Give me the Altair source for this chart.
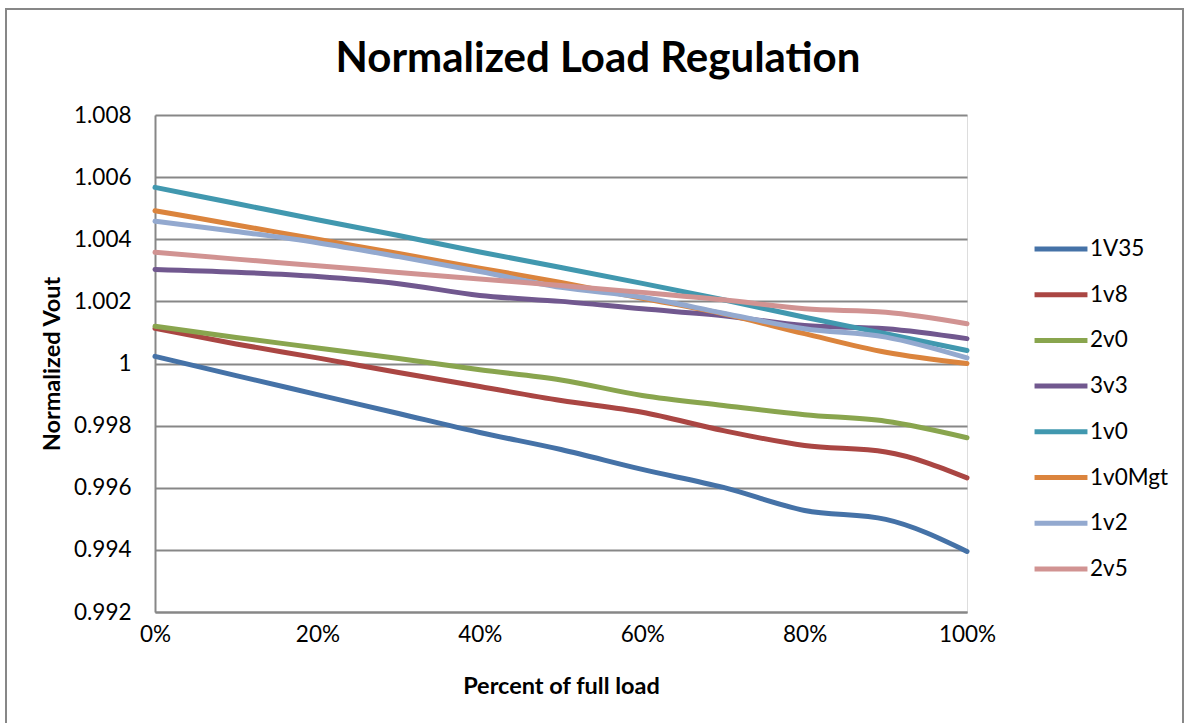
import altair as alt
import pandas as pd

title_text = ["Normalized Load Regulation"]

load = [0.0, 0.1, 0.2, 0.3, 0.4, 0.5, 0.6, 0.7, 0.8, 0.9, 1.0]

series_names = ["1V35", "1v8", "2v0", "3v3", "1v0", "1v0Mgt", "1v2", "2v5"]
colors = ["#4572A7", "#AA4643", "#89A54E", "#71588F", "#4198AF", "#DB843D", "#93A9CF", "#D19392"]

v_1V35 = [1.00023, 0.99961, 0.99900, 0.99839, 0.99778, 0.99723, 0.99659, 0.99601, 0.99527, 0.99498, 0.99395]
v_1v8 = [1.00113, 1.00063, 1.00018, 0.99971, 0.99926, 0.99881, 0.99843, 0.99784, 0.99736, 0.99715, 0.99632]
v_2v0 = [1.00120, 1.00084, 1.00050, 1.00016, 0.99980, 0.99947, 0.99897, 0.99865, 0.99835, 0.99814, 0.99761]
v_3v3 = [1.00303, 1.00294, 1.00280, 1.00257, 1.00219, 1.00200, 1.00176, 1.00154, 1.00122, 1.00112, 1.00080]
v_1v0 = [1.00567, 1.00515, 1.00463, 1.00412, 1.00359, 1.00309, 1.00258, 1.00205, 1.00149, 1.00096, 1.00042]
v_1v0Mgt = [1.00492, 1.00446, 1.00400, 1.00354, 1.00307, 1.00261, 1.00210, 1.00160, 1.00096, 1.00036, 1.00000]
v_1v2 = [1.00458, 1.00425, 1.00389, 1.00344, 1.00296, 1.00245, 1.00213, 1.00162, 1.00112, 1.00085, 1.00018]
v_2v5 = [1.00358, 1.00336, 1.00315, 1.00293, 1.00272, 1.00251, 1.00229, 1.00205, 1.00176, 1.00165, 1.00128]

all_values = [v_1V35, v_1v8, v_2v0, v_3v3, v_1v0, v_1v0Mgt, v_1v2, v_2v5]

rows = []
for name, vals in zip(series_names, all_values):
    for x, v in zip(load, vals):
        rows.append({"load": x, "vout": v, "series": name})
df = pd.DataFrame(rows)

FONT = "Lato"
GRID = "#878787"

lines = alt.Chart(df).mark_line(strokeWidth=5, interpolate="monotone", strokeCap="round").encode(
    x=alt.X("load:Q",
            scale=alt.Scale(domain=[0, 1], nice=False),
            axis=alt.Axis(title="Percent of full load", format=".0%", values=[0, 0.2, 0.4, 0.6, 0.8, 1.0],
                          grid=False, ticks=False, domainColor=GRID, domainWidth=2, labelFlush=False,
                          labelFontSize=22.5, labelPadding=11, labelColor="black", labelFont=FONT,
                          titleFont=FONT, titleFontSize=23.5, titleFontWeight="bold", titleColor="black",
                          titlePadding=29)),
    y=alt.Y("vout:Q",
            scale=alt.Scale(domain=[0.992, 1.008], nice=False, zero=False),
            axis=alt.Axis(title="Normalized Vout", values=[0.992, 0.994, 0.996, 0.998, 1.0, 1.002, 1.004, 1.006, 1.008],
                          format="~r", grid=True, gridColor=GRID, gridWidth=2, labelFlush=False,
                          ticks=False, domainColor=GRID, domainWidth=2,
                          labelFontSize=22.5, labelPadding=24, labelColor="black", labelFont=FONT,
                          titleFont=FONT, titleFontSize=23.5, titleFontWeight="bold", titleColor="black",
                          titlePadding=9)),
    color=alt.Color("series:N",
                    scale=alt.Scale(domain=series_names, range=colors),
                    sort=series_names,
                    legend=alt.Legend(title=None, orient="none", legendX=877, legendY=105,
                                      symbolType="stroke", symbolStrokeWidth=5, symbolSize=2800,
                                      labelFontSize=22.5, labelFont=FONT, labelColor="black",
                                      labelOffset=0, rowPadding=4.7, symbolOffset=0)),
)

border = alt.Chart(pd.DataFrame({"a": [0]})).mark_rect(fill=None, stroke="#878787", strokeWidth=2).encode(
    x=alt.value(-149), x2=alt.value(1028), y=alt.value(-106), y2=alt.value(720)
)

title = alt.Chart(pd.DataFrame({"t": title_text})).mark_text(
    font=FONT, fontSize=42, fontWeight="bold", color="black", align="center", baseline="alphabetic"
).encode(text="t:N", x=alt.value(443), y=alt.value(-43))

chart = alt.layer(border, lines, title).properties(
    width=812, height=497,
    autosize=alt.AutoSizeParams(type="none"),
    padding={"left": 155, "top": 115, "right": 219, "bottom": 111},
).configure_view(stroke=None).configure(background="white")

chart.save("out.html", embed_options={"renderer": "svg", "actions": False})
